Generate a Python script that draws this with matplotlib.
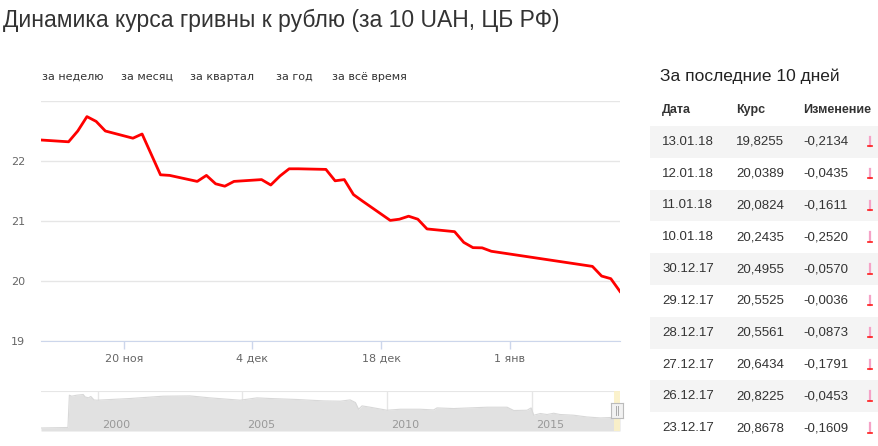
import numpy as np
import matplotlib
matplotlib.use("Agg")
import matplotlib.pyplot as plt
import matplotlib.dates as mdates
from matplotlib.lines import Line2D

# main chart: UAH (x10) to RUB, CB RF
dates = ['2017-11-11', '2017-11-14', '2017-11-15', '2017-11-16', '2017-11-17',
         '2017-11-18', '2017-11-21', '2017-11-22', '2017-11-23', '2017-11-24',
         '2017-11-25', '2017-11-28', '2017-11-29', '2017-11-30', '2017-12-01',
         '2017-12-02', '2017-12-05', '2017-12-06', '2017-12-07', '2017-12-08',
         '2017-12-09', '2017-12-12', '2017-12-13', '2017-12-14', '2017-12-15',
         '2017-12-16', '2017-12-19', '2017-12-20', '2017-12-21', '2017-12-22',
         '2017-12-23', '2017-12-26', '2017-12-27', '2017-12-28', '2017-12-29',
         '2017-12-30', '2018-01-10', '2018-01-11', '2018-01-12', '2018-01-13']
rates = [22.35, 22.32, 22.50, 22.74, 22.66, 22.50, 22.38, 22.45, 22.11, 21.77,
         21.76, 21.66, 21.76, 21.62, 21.58, 21.66, 21.69, 21.60, 21.75, 21.87,
         21.87, 21.86, 21.67, 21.69, 21.44, 21.33, 21.01, 21.03, 21.08, 21.03,
         20.8678, 20.8225, 20.6434, 20.5561, 20.5525, 20.4955, 20.2435, 20.0824,
         20.0389, 19.8255]

tick_dates = ['2017-11-20', '2017-12-04', '2017-12-18', '2018-01-01']
tick_labels = ['20 ноя', '4 дек', '18 дек', '1 янв']
y_ticks = [19, 20, 21, 22, 23]

# navigator (whole history)
nav_years = [1998.04, 1998.97, 1999.02, 1999.10, 1999.27, 1999.50, 1999.56,
             1999.68, 1999.76, 1999.87, 1999.97, 2001.12, 2002.26, 2003.19,
             2003.88, 2004.92, 2005.50, 2005.96, 2006.88, 2007.80, 2008.38,
             2008.72, 2008.90, 2009.01, 2009.13, 2009.41, 2009.99, 2010.45,
             2011.14, 2011.60, 2011.72, 2012.29, 2013.45, 2014.14, 2014.37,
             2014.83, 2014.97, 2015.06, 2015.29, 2015.52, 2015.75, 2015.97,
             2016.44, 2016.90, 2017.36, 2018.04]
nav_values = [4.3, 5.0, 51.0, 49.6, 51.0, 52.0, 48.6, 47.2, 49.2, 44.3, 43.9,
              46.3, 49.6, 50.0, 47.2, 43.9, 47.2, 46.3, 44.9, 42.9, 42.5, 44.3,
              40.6, 31.0, 35.8, 33.9, 29.6, 31.0, 31.0, 30.0, 32.9, 32.0, 33.9,
              33.9, 29.2, 29.6, 32.9, 22.5, 24.9, 23.5, 25.3, 23.5, 22.5, 20.0,
              18.6, 19.8]
nav_ticks = [2000, 2005, 2010, 2015]

# table: last 10 days
tbl_dates = ['13.01.18', '12.01.18', '11.01.18', '10.01.18', '30.12.17',
             '29.12.17', '28.12.17', '27.12.17', '26.12.17', '23.12.17']
tbl_rates = ['19,8255', '20,0389', '20,0824', '20,2435', '20,4955',
             '20,5525', '20,5561', '20,6434', '20,8225', '20,8678']
tbl_changes = ['-0,2134', '-0,0435', '-0,1611', '-0,2520', '-0,0570',
               '-0,0036', '-0,0873', '-0,1791', '-0,0453', '-0,1609']

buttons = ['за неделю', 'за месяц', 'за квартал', 'за год', 'за всё время']
button_x = [42, 121, 190, 276, 332]

W, H = 879, 446
fig = plt.figure(figsize=(W / 100, H / 100), dpi=100)


def fx(x):
    return x / W


def fy(y):
    return 1 - y / H


def ax_rect(x0, y0, x1, y1):
    return [fx(x0), fy(y1), fx(x1) - fx(x0), fy(y0) - fy(y1)]


grid_c = '#e6e6e6'
axis_c = '#ccd6eb'
label_c = '#666666'

# title
fig.text(fx(3), fy(20), 'Динамика курса гривны к рублю (за 10 UAH, ЦБ РФ)',
         family='Liberation Sans', fontsize=16.5, color='#333333', va='center')

for b, bx in zip(buttons, button_x):
    fig.text(fx(bx), fy(77), b, family='DejaVu Sans', fontsize=8,
             color='#333333', va='center')

# main chart
ax = fig.add_axes(ax_rect(41, 101, 620, 341))
d = mdates.date2num(np.array(dates, dtype='datetime64[D]'))
ax.plot(d, rates, color='#ff0000', lw=2, solid_joinstyle='round')
ax.set_xlim(d[0], d[-1])
ax.set_ylim(19, 23)
ax.set_yticks(y_ticks)
ax.set_yticklabels(['19', '20', '21', '22', ''])
ax.grid(axis='y', color=grid_c, lw=1)
ax.set_axisbelow(True)
td = mdates.date2num(np.array(tick_dates, dtype='datetime64[D]'))
ax.set_xticks(td)
ax.set_xticklabels(tick_labels)
for s in ['top', 'right', 'left']:
    ax.spines[s].set_visible(False)
ax.spines['bottom'].set_color(axis_c)
ax.tick_params(axis='x', colors=axis_c, length=6, width=1, labelcolor=label_c,
               labelsize=8, pad=3)
ax.tick_params(axis='y', length=0, labelcolor=label_c, labelsize=8, pad=11.5)
for t in ax.get_xticklabels() + ax.get_yticklabels():
    t.set_family('DejaVu Sans')

# navigator
nav = fig.add_axes(ax_rect(41, 391, 620, 431))
nav.fill_between(nav_years, nav_values, 0, color='#e1e1e1', lw=0, zorder=2)
nav.plot(nav_years, nav_values, color='#d8d8d8', lw=0.8, zorder=3)
nav.set_xlim(1998.04, 2018.04)
nav.set_ylim(0, 57)
for yr in nav_ticks:
    nav.axvline(yr, color=grid_c, lw=1, zorder=1)
    nav.text(yr + 0.15, 8, str(yr), fontsize=8, color='#999999',
             family='DejaVu Sans', va='center', ha='left', zorder=4)
nav.axhline(57, color=grid_c, lw=1.5, zorder=1)
nav.axvspan(2017.83, 2018.04, color='#fbf1c7', alpha=0.9, lw=0, zorder=3)
nav.set_xticks([])
nav.set_yticks([])
for s in nav.spines.values():
    s.set_visible(False)
# handle
hx = fig.add_axes(ax_rect(611, 403, 623, 418))
hx.set_facecolor('#f2f2f2')
for s in hx.spines.values():
    s.set_color('#bbbbbb')
    s.set_linewidth(0.8)
hx.set_xlim(0, 1)
hx.set_ylim(0, 1)
for lx in [0.38, 0.62]:
    hx.plot([lx, lx], [0.2, 0.8], color='#aaaaaa', lw=0.7)
hx.set_xticks([])
hx.set_yticks([])

# table
fig.text(fx(660), fy(76), 'За последние 10 дней', family='Liberation Sans',
         fontsize=12.5, color='#222222', va='center')
for hdr, hxp in zip(['Дата', 'Курс', 'Изменение'], [662, 736, 803]):
    fig.text(fx(hxp), fy(110), hdr, family='Liberation Sans', fontsize=9,
             fontweight='bold', color='#333333', va='center')

row_top = 126
row_h = 31.8
for i in range(len(tbl_dates)):
    y0 = row_top + i * row_h
    yc = y0 + row_h / 2
    if i % 2 == 0:
        fig.patches.append(plt.Rectangle((fx(650), fy(y0 + row_h)),
                                         fx(W) - fx(650), row_h / H,
                                         transform=fig.transFigure,
                                         color='#f4f4f4', lw=0, zorder=0))
    for txt, tx in zip([tbl_dates[i], tbl_rates[i], tbl_changes[i]],
                       [662, 736, 803]):
        fig.text(fx(tx), fy(yc), txt, family='Liberation Sans', fontsize=9.5,
                 color='#333333', va='center')
    # small down arrow: pink stem, red head
    fig.add_artist(Line2D([fx(870), fx(870)], [fy(yc - 5), fy(yc + 4)],
                          transform=fig.transFigure, color='#f5a3c7', lw=1.6))
    fig.add_artist(Line2D([fx(868), fx(872)], [fy(yc + 4.5), fy(yc + 4.5)],
                          transform=fig.transFigure, color='#ff1a1a', lw=1.2))

fig.savefig('out.png', dpi=100)
